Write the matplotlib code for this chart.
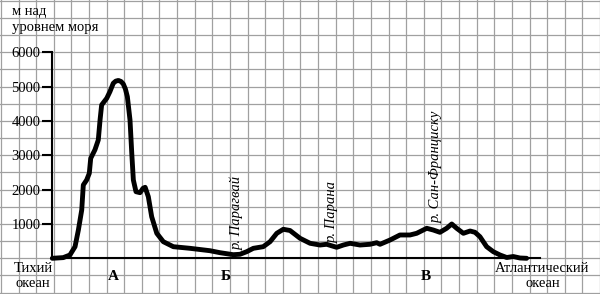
import matplotlib
matplotlib.use("Agg")
import matplotlib.pyplot as plt

# ---- data ----
# distance along profile (grid cells from the y axis) and elevation (m)
dist = [0.00, 0.62, 1.00, 1.29, 1.48, 1.67, 1.76, 1.95, 2.10, 2.18, 2.42, 2.61,
        2.71, 2.80, 3.09, 3.27, 3.46, 3.60, 3.75, 3.90, 4.03, 4.15, 4.26, 4.41, 4.51, 4.60, 4.75,
        4.98, 5.15, 5.27, 5.45, 5.64, 5.93, 6.30, 6.87, 7.81, 8.95, 9.52, 10.27, 10.65,
        11.03, 11.41, 11.97, 12.36, 12.74, 13.11, 13.49, 14.06, 14.63, 15.19,
        15.57, 16.14, 16.52, 16.90, 17.46, 18.03, 18.41, 18.60, 19.17, 19.73,
        20.30, 20.68, 21.25, 21.62, 22.00, 22.38, 22.67, 22.95, 23.33, 23.71,
        23.99, 24.27, 24.65, 25.03, 25.41, 25.79, 26.16, 26.54, 26.92]
elev = [0, 20, 96, 338, 824, 1407, 2135, 2281, 2476, 2913, 3160, 3446,
        4029, 4466, 4661, 4853, 5098, 5160, 5180, 5150, 5077, 4930, 4707, 4029, 3059, 2281, 1940,
        1911, 2040, 2068, 1794, 1212, 728, 484, 338, 291, 221, 163, 105, 117,
        192, 291, 338, 484, 728, 845, 810, 583, 437, 387,
        408, 320, 387, 437, 387, 408, 454, 408, 533, 679,
        679, 728, 874, 824, 757, 874, 999, 874, 728, 795,
        757, 629, 338, 192, 96, 23, 52, 9, 0]
y_ticks = [1000, 2000, 3000, 4000, 5000, 6000]
y_tick_labels = ["1000", "2000", "3000", "4000", "5000", "6000"]
point_labels = ["А", "Б", "В"]
river_labels = ["р. Парагвай", "р. Парана", "р. Сан-Франциску"]

SERIF = ["Liberation Serif", "DejaVu Serif"]

fig = plt.figure(figsize=(6.0, 2.94), dpi=100)

# background "graph paper" in pixel coordinates
bg = fig.add_axes([0, 0, 1, 1])
bg.set_xlim(0, 600)
bg.set_ylim(294, 0)
bg.axis("off")
gx = 0.9
while gx < 600:
    bg.axvline(gx, color="#a0a0a0", lw=0.9, zorder=0)
    gx += 17.62
gy = 258.3
while gy > -1:
    bg.axhline(gy, color="#a0a0a0", lw=0.9, zorder=0)
    gy -= 17.165
gy = 258.3 + 17.165
while gy < 294:
    bg.axhline(gy, color="#a0a0a0", lw=0.9, zorder=0)
    gy += 17.165

# texts
bg.text(12.5, 11, "м над", fontsize=10.5, family=SERIF, va="center", ha="left")
bg.text(12.5, 27.5, "уровнем моря", fontsize=10.5, family=SERIF, va="center", ha="left")
bg.text(33, 268, "Тихий", fontsize=10.5, family=SERIF, va="center", ha="center")
bg.text(33, 283.5, "океан", fontsize=10.5, family=SERIF, va="center", ha="center")
bg.text(542.5, 269, "Атлантический", fontsize=10.5, family=SERIF, va="center", ha="center")
bg.text(542.5, 283.5, "океан", fontsize=10.5, family=SERIF, va="center", ha="center")
for lab, px in zip(point_labels, [113, 225.5, 426]):
    bg.text(px, 277, lab, fontsize=11, family=SERIF, weight="bold", va="center", ha="center")
for lab, px, py in zip(river_labels, [237.5, 332.5, 436], [250, 243, 223]):
    bg.text(px, py, lab, fontsize=10.5, family=SERIF, style="italic", rotation=90,
            rotation_mode="anchor", ha="left", va="center")

# main profile axes
left_px, right_px, base_px, top_px = 52.3, 540.0, 258.3, 52.3
ax = fig.add_axes([left_px / 600, (294 - base_px) / 294,
                   (right_px - left_px) / 600, (base_px - top_px) / 294])
ax.patch.set_alpha(0)
ax.set_xlim(0, (right_px - left_px) / 17.62)
ax.set_ylim(0, 6000)
for s in ["top", "right"]:
    ax.spines[s].set_visible(False)
for s in ["left", "bottom"]:
    ax.spines[s].set_linewidth(1.5)
    ax.spines[s].set_color("black")
ax.set_xticks([])
ax.set_yticks(y_ticks)
ax.set_yticklabels(y_tick_labels, family=SERIF, fontsize=10.5)
ax.tick_params(axis="y", length=7, width=1.5, pad=1.5, color="black")

ax.plot(dist, elev, color="black", lw=3.5, solid_joinstyle="round",
        solid_capstyle="round", clip_on=False, zorder=5)

fig.savefig("out.png", dpi=100)
